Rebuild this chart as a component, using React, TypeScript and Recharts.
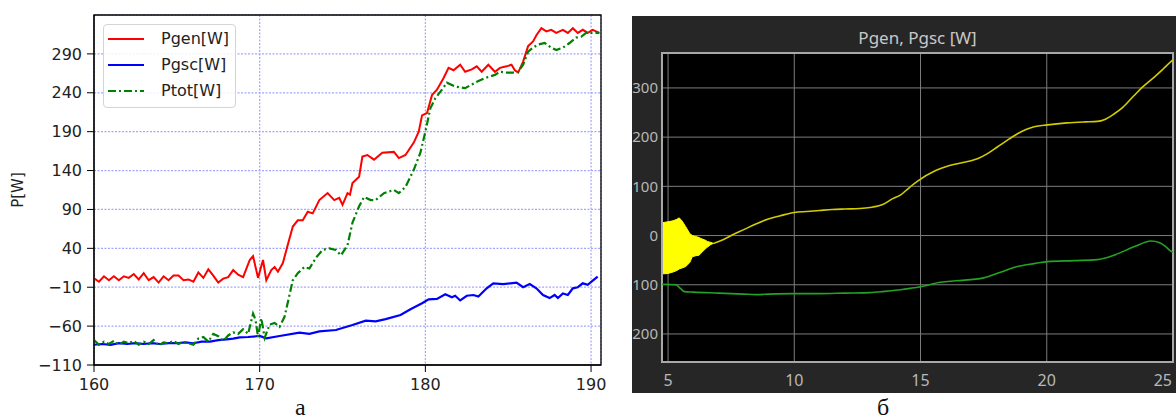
import React from 'react';
import {
  LineChart,
  ComposedChart,
  Line,
  Area,
  XAxis,
  YAxis,
  CartesianGrid,
  ReferenceArea,
  Label,
} from 'recharts';

// --- left plot (а): measured power, time in s ---
const genT = [160, 160.3, 160.6, 160.9, 161.2, 161.5, 161.8, 162.1, 162.4, 162.7, 163, 163.3, 163.6, 163.9, 164.2, 164.5, 164.8, 165.1, 165.4, 165.7, 166, 166.3, 166.6, 166.9, 167.2, 167.5, 167.8, 168.1, 168.4, 168.7, 169, 169.4, 169.6, 169.9, 170.2, 170.4, 170.7, 170.9, 171.1, 171.4, 171.7, 172, 172.3, 172.6, 172.9, 173.2, 173.6, 174.1, 174.5, 174.8, 175, 175.3, 175.45, 175.6, 176, 176.2, 176.5, 176.9, 177.4, 178.1, 178.4, 178.8, 179.3, 179.6, 179.8, 180.1, 180.4, 180.7, 181.1, 181.4, 181.7, 182.1, 182.4, 182.8, 183.1, 183.4, 183.8, 184.2, 184.5, 184.9, 185.2, 185.4, 185.6, 185.9, 186.2, 186.5, 186.7, 187, 187.3, 187.6, 187.9, 188.3, 188.6, 188.9, 189.2, 189.5, 189.8, 190.1, 190.5];
const genP = [1.5, -3, 4, -1, 4, -1, 4, 2, 7, 0, 8, -1, 3, -4, 4, -1, 5, 5, -1, 0, -3, 9, 2, 13, 5, -4, 1, 3, 12, 6, 3, 25, 30, 2, 25, -1, 12, 16, 10, 21, 45, 68, 76, 76, 87, 85, 102, 111, 102, 105, 96, 111, 109, 124, 132, 158, 160, 154, 163, 164, 156, 160, 176, 190, 211, 214, 237, 244, 259, 272, 269, 276, 267, 270, 274, 267, 276, 267, 272, 274, 276, 269, 266, 280, 300, 306, 314, 323, 319, 321, 317, 321, 317, 323, 317, 321, 317, 321, 317];

const scT = [160, 160.5, 161, 161.5, 162, 162.5, 163, 163.5, 164, 164.5, 165, 165.5, 166, 166.5, 167, 167.5, 168, 168.4, 168.8, 169.3, 170, 170.4, 171.2, 172.4, 173, 173.6, 174.6, 175.6, 176.4, 177, 177.6, 178.5, 179.1, 179.8, 180.2, 180.7, 181.2, 181.6, 181.8, 182.1, 182.5, 182.9, 183.2, 183.7, 184.1, 184.7, 185.5, 185.9, 186.3, 186.7, 187.1, 187.5, 187.8, 188, 188.3, 188.6, 188.9, 189.2, 189.5, 189.8, 190.1, 190.4];
const scP = [-84, -83, -84, -82, -83, -82, -83, -82, -83, -82, -82, -81, -82, -80, -80, -78, -77, -76, -74.5, -74, -72.7, -75.7, -72.7, -68.5, -70, -66.8, -65, -58.6, -53, -54, -51, -45.7, -38.4, -30.6, -25.5, -25, -19, -23, -21, -27, -21, -20, -22, -11.4, -5, -6, -4, -10, -6, -11.4, -20, -24, -20, -24, -18, -20, -11.4, -10, -5, -7, -1.6, 3.6];

const totT = [160, 160.3, 160.6, 160.9, 161.2, 161.5, 161.8, 162.1, 162.4, 162.7, 163, 163.3, 163.6, 163.9, 164.2, 164.5, 164.8, 165.1, 165.4, 165.7, 166, 166.3, 166.6, 166.9, 167.2, 167.5, 167.8, 168.1, 168.4, 168.7, 169, 169.3, 169.6, 169.75, 169.9, 170.1, 170.3, 170.6, 170.9, 171.2, 171.5, 172, 172.3, 172.7, 173, 173.4, 173.8, 174.2, 174.6, 174.9, 175.3, 175.6, 176, 176.3, 176.7, 177, 177.5, 178.1, 178.4, 178.8, 179.3, 179.7, 180, 180.3, 180.6, 181, 181.3, 181.8, 182.4, 183, 183.6, 184.2, 184.5, 184.9, 185.3, 185.6, 185.9, 186.2, 186.5, 186.8, 187.2, 187.6, 187.9, 188.3, 188.7, 189.1, 189.4, 189.7, 190.1, 190.5];
const totP = [-78, -84, -80, -83, -79, -84, -80, -82, -79, -84, -80, -83, -78, -85, -81, -82, -79, -83, -80, -82, -84, -76, -74, -80, -70, -73, -79, -72, -68, -70, -64, -70, -44, -52, -74, -50, -75, -58, -56, -61, -48, -1, 8, 16, 14, 28, 38, 40, 38, 31, 44, 73, 94, 106, 102, 102, 111, 115, 111, 119, 141, 163, 190, 220, 233, 244, 253, 248, 246, 253, 259, 263, 267, 266, 266, 267, 276, 293, 298, 302, 304, 298, 295, 298, 304, 311, 312, 317, 317, 317];

const leftXTicks = [160, 170, 180, 190];
const leftYTicks = [-110, -60, -10, 40, 90, 140, 190, 240, 290];

// --- right plot (б): simulation ---
const bandT = [4.76, 5.0, 5.2, 5.35, 5.44, 5.55, 5.7, 5.86, 5.96, 6.1, 6.23, 6.3, 6.5, 6.55, 6.7, 6.8];
const bandLow = [-78, -77, -74, -71, -68, -66, -63, -55, -43, -41, -40, -36, -26, -24, -18, -16];
const bandHigh = [26, 28, 30, 33, 36, 30, 18, 4, 0, -2, -4, -6, -10, -12, -14, -16];

const genRT = [6.8, 7.2, 7.5, 8, 8.5, 9, 9.5, 10, 10.5, 11, 11.5, 12, 12.6, 13, 13.5, 13.9, 14.2, 14.5, 14.87, 15.6, 16, 16.46, 17, 17.25, 17.6, 18.04, 18.5, 18.84, 19.2, 19.5, 20.03, 20.8, 21.5, 22, 22.3, 22.66, 23, 23.45, 23.8, 24.26, 24.6, 24.95, 25];
const genRP = [-16, -8, 0, 12, 24, 34, 41, 47, 49, 51, 53, 54, 55, 57, 63, 75, 82, 95, 110, 132, 140, 146, 152, 156, 165, 180, 196, 207, 216, 221, 225, 229, 231, 232, 236, 247, 260, 284, 302, 322, 338, 355, 357];

const scRT = [4.76, 5.3, 5.5, 5.65, 6, 7, 8, 8.5, 9, 10, 11, 12, 13, 13.5, 14.2, 15, 15.8, 16.4, 17.5, 18.2, 18.84, 19.5, 20.03, 21.07, 22, 22.66, 23.45, 24.13, 24.45, 24.7, 24.92, 25];
const scRP = [-99, -100, -108, -114, -115, -117, -119, -120, -119, -118, -118, -117, -116, -114, -110, -104, -95, -92, -86, -74, -63, -57, -53, -51, -49, -40, -23, -11, -14, -22, -32, -34];

const rightXTicks = [5, 10, 15, 20, 25];
const rightYTicks = [-200, -100, 0, 100, 200, 300];

type Row = { t: number; [k: string]: number | number[] | undefined };

// put several (t, value) series on one table keyed by t
function mergeSeries(list: { key: string; t: number[]; v: (number | number[])[] }[]): Row[] {
  const map = new Map<number, Row>();
  list.forEach(({ key, t, v }) => {
    t.forEach((tt, i) => {
      if (!map.has(tt)) map.set(tt, { t: tt });
      map.get(tt)![key] = v[i];
    });
  });
  return Array.from(map.values()).sort((a, b) => a.t - b.t);
}

const leftRows = mergeSeries([
  { key: 'gen', t: genT, v: genP },
  { key: 'sc', t: scT, v: scP },
  { key: 'tot', t: totT, v: totP },
]);

const rightRows = mergeSeries([
  { key: 'band', t: bandT, v: bandT.map((_, i) => [bandLow[i], bandHigh[i]]) },
  { key: 'gen', t: genRT, v: genRP },
  { key: 'sc', t: scRT, v: scRP },
]);

const minus = (v: number) => String(v).replace('-', '\u2212');

const legendItems = [
  { name: 'Pgen[W]', color: '#ff0000', dash: undefined },
  { name: 'Pgsc[W]', color: '#0000ff', dash: undefined },
  { name: 'Ptot[W]', color: '#008000', dash: '8 3 2 3' },
];

const YLabel = (props: any) => {
  const vb = props.viewBox || {};
  const cx = 18;
  const cy = vb.height ? vb.y + vb.height / 2 : 190;
  return (
    <text
      x={cx}
      y={cy}
      transform={`rotate(-90 ${cx} ${cy})`}
      textAnchor="middle"
      dominantBaseline="central"
      fontSize={15}
      fontFamily="DejaVu Sans"
      fill="#222"
    >
      P[W]
    </text>
  );
};

// the scope's x labels; the last one is kept inside the panel
const ScopeXTick = (props: any) => {
  const { x, y, payload } = props;
  const last = payload.value === rightXTicks[rightXTicks.length - 1];
  return (
    <text
      x={last ? x + 4 : x}
      y={y}
      dy="0.71em"
      textAnchor={last ? 'end' : 'middle'}
      fill="#b8b8b8"
      fontSize={16}
      fontFamily="Noto Sans"
    >
      {payload.value}
    </text>
  );
};

const caption: React.CSSProperties = {
  position: 'absolute',
  top: 397,
  height: 20,
  fontFamily: 'Liberation Serif',
  fontSize: 24,
  lineHeight: '20px',
  color: '#111',
};

const App = () => {
  return (
    <div style={{ position: 'absolute', left: 0, top: 0, width: 1176, height: 419, background: '#fff', overflow: 'hidden' }}>
      {/* а */}
      <div style={{ position: 'absolute', left: 0, top: 0 }}>
        <LineChart width={620} height={400} data={leftRows} margin={{ top: 15, right: 19, bottom: 5, left: 0 }}>
          <CartesianGrid stroke="#a3a6ff" strokeWidth={1.2} strokeDasharray="2 1.5" />
          <XAxis
            type="number"
            dataKey="t"
            domain={[160, 190.6]}
            ticks={leftXTicks}
            allowDataOverflow
            height={30}
            tickSize={7}
            tickMargin={7}
            axisLine={{ stroke: '#000' }}
            tickLine={{ stroke: '#000' }}
            tick={{ fill: '#222', fontSize: 16, fontFamily: 'DejaVu Sans' }}
          />
          <YAxis
            type="number"
            domain={[-110, 340]}
            ticks={leftYTicks}
            allowDataOverflow
            width={94}
            tickSize={7}
            tickMargin={5}
            tickFormatter={minus}
            axisLine={{ stroke: '#000' }}
            tickLine={{ stroke: '#000' }}
            tick={{ fill: '#222', fontSize: 16, fontFamily: 'DejaVu Sans' }}
          >
            <Label content={<YLabel />} />
          </YAxis>
          <Line type="linear" dataKey="gen" stroke="#ff0000" strokeWidth={2} dot={false} connectNulls isAnimationActive={false} />
          <Line type="linear" dataKey="sc" stroke="#0000ff" strokeWidth={2.2} dot={false} connectNulls isAnimationActive={false} />
          <Line type="linear" dataKey="tot" stroke="#008000" strokeWidth={2.2} strokeDasharray="8 3 2 3" dot={false} connectNulls isAnimationActive={false} />
          <ReferenceArea x1={160} x2={190.6} y1={-110} y2={340} fill="none" stroke="#000" strokeWidth={1.3} />
        </LineChart>
        <div
          style={{
            position: 'absolute',
            left: 103,
            top: 24,
            width: 133,
            height: 84,
            boxSizing: 'border-box',
            border: '1px solid #d4d4d4',
            borderRadius: 4,
            background: 'rgba(255,255,255,0.85)',
            fontFamily: 'DejaVu Sans',
            fontSize: 16,
            color: '#222',
          }}
        >
          {legendItems.map((it, i) => (
            <div key={it.name} style={{ position: 'absolute', left: 3, top: 4 + i * 26, height: 20, display: 'flex', alignItems: 'center' }}>
              <svg width={38} height={20}>
                <line x1={1} x2={37} y1={10} y2={10} stroke={it.color} strokeWidth={2.2} strokeDasharray={it.dash} />
              </svg>
              <span style={{ marginLeft: 16, lineHeight: '20px' }}>{it.name}</span>
            </div>
          ))}
        </div>
      </div>

      {/* б */}
      <div style={{ position: 'absolute', left: 632, top: 16, width: 544, height: 377, background: '#262626', overflow: 'hidden' }}>
        <div
          style={{
            position: 'absolute',
            left: 30,
            top: 11,
            width: 511,
            height: 22,
            lineHeight: '22px',
            textAlign: 'center',
            color: '#c8c8c8',
            fontFamily: 'Noto Sans',
            fontSize: 17,
          }}
        >
          Pgen, Pgsc [W]
        </div>
        <ComposedChart width={544} height={377} data={rightRows} margin={{ top: 37, right: 3, bottom: 0, left: 0 }}>
          <CartesianGrid stroke="#7c7c7c" strokeWidth={1} fill="#000" fillOpacity={1} />
          <XAxis
            type="number"
            dataKey="t"
            domain={[4.76, 25]}
            ticks={rightXTicks}
            allowDataOverflow
            height={31}
            tickSize={0}
            tickMargin={13}
            axisLine={false}
            tickLine={false}
            tick={<ScopeXTick />}
          />
          <YAxis
            type="number"
            domain={[-257, 371]}
            ticks={rightYTicks}
            allowDataOverflow
            width={30}
            tickSize={0}
            tickMargin={4}
            tickFormatter={(v: number) => String(Math.abs(v))}
            axisLine={false}
            tickLine={false}
            tick={{ fill: '#b8b8b8', fontSize: 15, fontFamily: 'Noto Sans' }}
          />
          <Area type="linear" dataKey="band" stroke="#ffff00" strokeWidth={1} fill="#ffff00" fillOpacity={1} connectNulls isAnimationActive={false} />
          <Line type="monotone" dataKey="gen" stroke="#d2cc00" strokeWidth={1.6} dot={false} connectNulls isAnimationActive={false} />
          <Line type="monotone" dataKey="sc" stroke="#23a323" strokeWidth={1.6} dot={false} connectNulls isAnimationActive={false} />
          <ReferenceArea x1={4.76} x2={25} y1={-257} y2={371} fill="none" stroke="#a8a8a8" strokeWidth={2} />
        </ComposedChart>
      </div>

      <div style={{ ...caption, left: 295 }}>а</div>
      <div style={{ ...caption, left: 877 }}>б</div>
    </div>
  );
};

export default App;
